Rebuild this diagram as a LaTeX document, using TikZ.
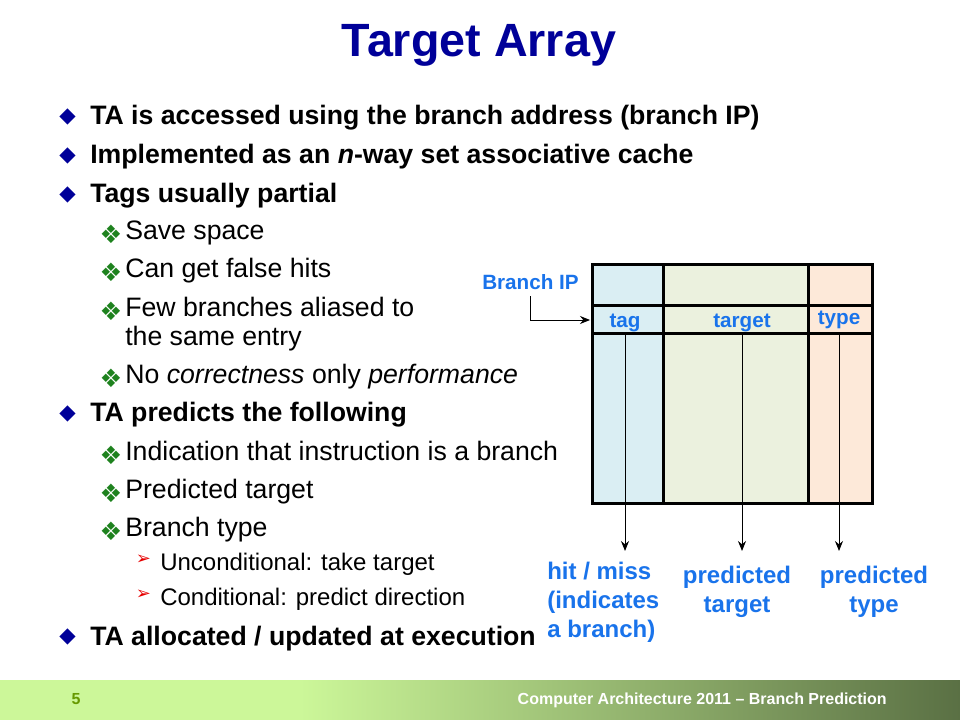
\documentclass[tikz,border=0pt]{standalone}
\usepackage{fontspec}
\setmainfont{Liberation Sans}
\newfontfamily\symfont{DejaVu Sans}
\usetikzlibrary{arrows.meta,positioning,calc}

\definecolor{titlenavy}{RGB}{0,0,153}
\definecolor{labelblue}{RGB}{25,115,235}
\definecolor{subgreen}{RGB}{30,130,30}
\definecolor{subred}{RGB}{230,0,0}
\definecolor{tagfill}{RGB}{218,238,243}
\definecolor{targetfill}{RGB}{235,241,222}
\definecolor{typefill}{RGB}{253,233,217}
\definecolor{footlight}{RGB}{204,247,153}
\definecolor{footdark}{RGB}{90,112,68}
\definecolor{footnum}{RGB}{102,153,0}

\begin{document}
\begin{tikzpicture}[
    x=0.75pt, y=-0.75pt,
    slidetitle/.style={
        anchor=base,
        inner sep=0pt,
        text=titlenavy,
        font=\fontsize{35}{40}\selectfont\bfseries,
    },
    mainitem/.style={
        anchor=base west,
        inner sep=0pt,
        font=\fontsize{20}{24}\selectfont\bfseries,
    },
    subitem/.style={
        anchor=base west,
        inner sep=0pt,
        font=\fontsize{20}{24}\selectfont,
    },
    subsubitem/.style={
        anchor=base west,
        inner sep=0pt,
        font=\fontsize{18}{22}\selectfont,
    },
    mainmark/.style={
        inner sep=0pt,
        text=titlenavy,
        font=\symfont\fontsize{16}{16}\selectfont,
    },
    submark/.style={
        inner sep=0pt,
        text=subgreen,
        font=\symfont\fontsize{19}{19}\selectfont,
    },
    subsubmark/.style={
        inner sep=0pt,
        text=subred,
        font=\symfont\fontsize{13.5}{13.5}\selectfont,
    },
    celltext/.style={
        anchor=base,
        inner sep=0pt,
        text=labelblue,
        font=\fontsize{15.5}{18}\selectfont\bfseries,
    },
    outlbl/.style={
        inner xsep=0pt,
        inner ysep=8.5pt,
        text=labelblue,
        font=\fontsize{18}{21.4}\selectfont\bfseries,
        align=#1,
    },
    outlbl/.default=center,
    tabline/.style={
        line width=2.25pt,
    },
    arrowline/.style={
        -{Stealth[length=7.5pt, width=6pt, inset=2.5pt]},
        line width=0.75pt,
    },
]

\fill[white] (0,0) rectangle (960,720);
\useasboundingbox (0,0) rectangle (960,720);

% === Title ===
\node[slidetitle] (title) at (479,57) {Target Array};

% === Bullet list ===
\node[mainmark] at (67.5,116.5) {◆};
\node[mainitem] (ta1) at (90,124.5) {TA is accessed using the branch address (branch IP)};
\node[mainmark] at (67.5,155.5) {◆};
\node[mainitem] (ta2) at (90,163.5) {Implemented as an \textit{n}-way set associative cache};
\node[mainmark] at (67.5,194.5) {◆};
\node[mainitem] (ta3) at (90,202.5) {Tags usually partial};

\node[submark] at (111,234) {❖};
\node[subitem] (s31) at (125,239.5) {Save space};
\node[submark] at (111,272) {❖};
\node[subitem] (s32) at (125,277.5) {Can get false hits};
\node[submark] at (111,311) {❖};
\node[subitem] (s33) at (125,316.5) {Few branches aliased to};
\node[subitem] (s33b) at (125,345.5) {the same entry};
\node[submark] at (111,378) {❖};
\node[subitem] (s34) at (125,383.5) {No \textit{correctness} only \textit{performance}};

\node[mainmark] at (67.5,413.5) {◆};
\node[mainitem] (ta4) at (90,421.5) {TA predicts the following};

\node[submark] at (111,455) {❖};
\node[subitem] (s41) at (125,460.5) {Indication that instruction is a branch};
\node[submark] at (111,493) {❖};
\node[subitem] (s42) at (125,498.5) {Predicted target};
\node[submark] at (111,531) {❖};
\node[subitem] (s43) at (125,536.5) {Branch type};

\node[subsubmark] at (143.5,560) {➢};
\node[subsubitem] (s431) at (160,570) {Unconditional: take target};
\node[subsubmark] at (143.5,595) {➢};
\node[subsubitem] (s432) at (160,605) {Conditional: predict direction};

\node[mainmark] at (67.5,637) {◆};
\node[mainitem] (ta5) at (90,645) {TA allocated / updated at execution};

% === Target array ===
\fill[tagfill] (592,265) rectangle (663.5,503);
\fill[targetfill] (663.5,265) rectangle (808,503);
\fill[typefill] (808,265) rectangle (872,503);
\draw[tabline] (592,265) rectangle (872,503);
\draw[tabline] (663.5,265) -- (663.5,503);
\draw[tabline] (808,265) -- (808,503);
\draw[tabline] (592,305.5) -- (872,305.5);
\draw[tabline] (592,333) -- (872,333);

\node[celltext] (tag) at (625,327.5) {tag};
\node[celltext] (target) at (742,327.5) {target};
\node[celltext] (type) at (839,325) {type};
\coordinate (rowbot) at (592,334.5);
\coordinate (tagedge) at (590,320);

\node[celltext, inner sep=5pt] (bip) at (530.5,289.3) {Branch IP};

% === Outputs ===
\node[outlbl=left, anchor=north west] (hit) at (547,551) {hit / miss\\(indicates\\a branch)};
\node[outlbl, inner ysep=11.25pt, anchor=north] (predtgt) at (737,551) {predicted\\target};
\node[outlbl, inner ysep=11.25pt, anchor=north] (predtype) at (874,551) {predicted\\type};

% === Arrows ===
\draw[arrowline] (bip.south) |- (tagedge);
\draw[arrowline] (tag |- rowbot) -- (tag |- hit.north);
\draw[arrowline] (target |- rowbot) -- (target |- predtgt.north);
\draw[arrowline] (type |- rowbot) -- (type |- predtype.north);

% === Footer ===
\fill[footlight] (0,680) rectangle (300,720);
\shade[left color=footlight, right color=footdark] (300,680) rectangle (960,720);
\node[anchor=base, inner sep=0pt, text=footnum, font=\fontsize{12}{14}\selectfont\bfseries] (pagenum) at (76,704) {5};
\node[anchor=base east, inner sep=0pt, text=white, font=\fontsize{12}{14}\selectfont\bfseries] (course) at (887,704) {Computer Architecture 2011 – Branch Prediction};

\end{tikzpicture}
\end{document}
